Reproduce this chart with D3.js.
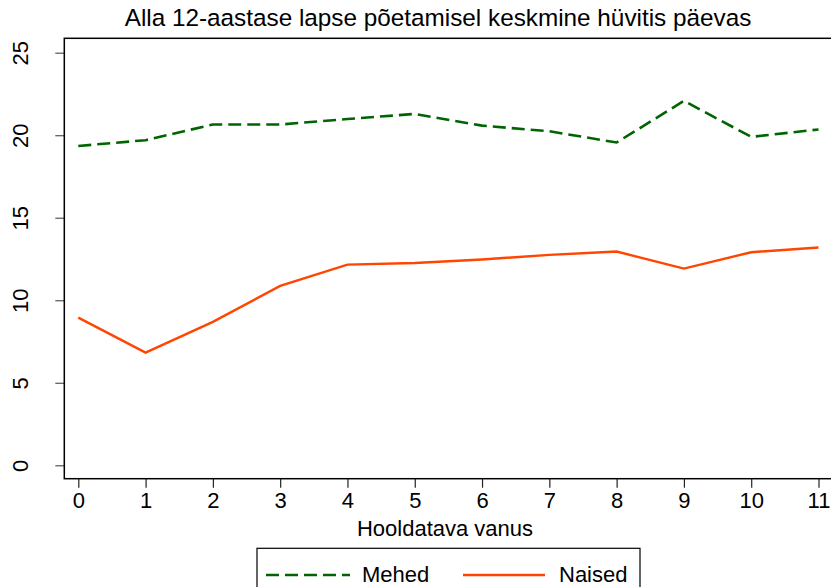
<!DOCTYPE html>
<html>
<head>
<meta charset="utf-8">
<script src="https://cdn.jsdelivr.net/npm/d3@7"></script>
<style>
  body { margin: 0; background: #fff; }
  svg { display: block; font-family: "Liberation Sans", Arial, sans-serif; }
</style>
</head>
<body>
<svg width="831" height="587"></svg>
<script>
const ages = [0, 1, 2, 3, 4, 5, 6, 7, 8, 9, 10, 11];
const mehed = [19.35, 19.7, 20.65, 20.65, 20.98, 21.29, 20.58, 20.24, 19.56, 22.08, 19.9, 20.35];
const naised = [8.95, 6.83, 8.69, 10.87, 12.16, 12.26, 12.47, 12.75, 12.95, 11.92, 12.91, 13.2];
const yTicks = [0, 5, 10, 15, 20, 25];

const svg = d3.select("svg");
const box = { left: 64.3, top: 38.3, right: 840, bottom: 478.7 };
const cx = 449;
const labelSize = "22px";

const x = d3.scaleLinear().domain([0, 11]).range([78.3, 818.5]);
const y = d3.scaleLinear().domain([0, 25]).range([465.3, 52.7]);

// title
svg.append("text")
  .attr("x", 438).attr("y", 26)
  .attr("text-anchor", "middle")
  .style("font-size", "24.3px")
  .text("Alla 12-aastase lapse põetamisel keskmine hüvitis päevas");

// y axis
const yAxis = svg.append("g")
  .attr("transform", `translate(${box.left},0)`)
  .call(d3.axisLeft(y).tickValues(yTicks).tickSize(9).tickPadding(0));
yAxis.select(".domain").remove();
yAxis.selectAll(".tick line").attr("stroke", "#555").attr("stroke-width", 1.2);
yAxis.selectAll(".tick text")
  .attr("x", 0)
  .attr("transform", "translate(-44,0) rotate(-90)")
  .attr("text-anchor", "middle")
  .attr("dy", "0.36em")
  .attr("fill", "#000")
  .style("font-size", labelSize)
  .style("font-family", "Liberation Sans, Arial, sans-serif");

// x axis
const xAxis = svg.append("g")
  .attr("transform", `translate(0,${box.bottom})`)
  .call(d3.axisBottom(x).tickValues(ages).tickSize(9).tickPadding(0).tickFormat(d3.format("d")));
xAxis.select(".domain").remove();
xAxis.selectAll(".tick line").attr("stroke", "#222").attr("stroke-width", 1.2);
xAxis.selectAll(".tick text")
  .attr("y", 29).attr("dy", null)
  .attr("fill", "#000")
  .style("font-size", labelSize)
  .style("font-family", "Liberation Sans, Arial, sans-serif");

// plot box
svg.append("rect")
  .attr("x", box.left).attr("y", box.top)
  .attr("width", box.right - box.left).attr("height", box.bottom - box.top)
  .attr("fill", "none").attr("stroke", "#000").attr("stroke-width", 1.5);

// lines
const line = d3.line().x((d, i) => x(ages[i])).y(d => y(d));

svg.append("path")
  .datum(mehed)
  .attr("d", line)
  .attr("fill", "none")
  .attr("stroke", "#006400")
  .attr("stroke-width", 2.6)
  .attr("stroke-dasharray", "13,6");

svg.append("path")
  .datum(naised)
  .attr("d", line)
  .attr("fill", "none")
  .attr("stroke", "#ff4500")
  .attr("stroke-width", 2.4);

// x axis title
svg.append("text")
  .attr("x", cx - 4).attr("y", 536)
  .attr("text-anchor", "middle")
  .style("font-size", labelSize)
  .text("Hooldatava vanus");

// legend
const legend = svg.append("g");
legend.append("rect")
  .attr("x", 257).attr("y", 548.3)
  .attr("width", 383).attr("height", 60)
  .attr("fill", "#fff").attr("stroke", "#000").attr("stroke-width", 1.2);

const items = [
  { name: "Mehed", color: "#006400", dash: "13,6", x0: 266, x1: 350, tx: 362 },
  { name: "Naised", color: "#ff4500", dash: null, x0: 463, x1: 545, tx: 559 }
];
items.forEach(it => {
  legend.append("line")
    .attr("x1", it.x0).attr("x2", it.x1)
    .attr("y1", 575).attr("y2", 575)
    .attr("stroke", it.color).attr("stroke-width", 2.6)
    .attr("stroke-dasharray", it.dash);
  legend.append("text")
    .attr("x", it.tx).attr("y", 582)
    .style("font-size", labelSize)
    .text(it.name);
});
</script>
</body>
</html>
